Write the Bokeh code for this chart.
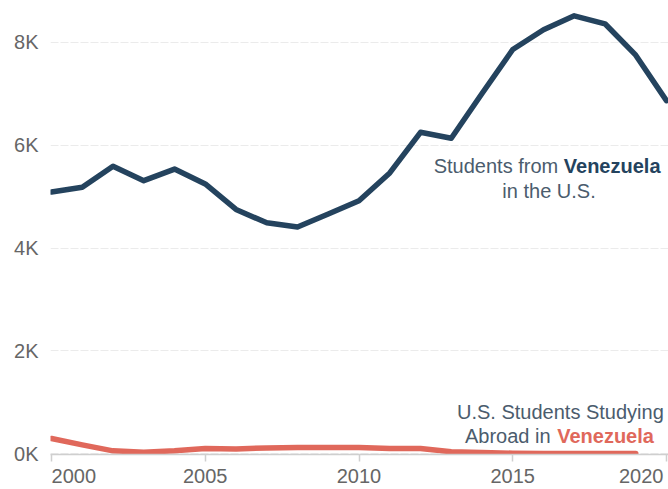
from bokeh.plotting import figure
from bokeh.models import Range1d, FixedTicker
from bokeh.core.properties import value
from bokeh.embed import file_html
from bokeh.resources import INLINE

# ---- data ----
years_from = list(range(2000, 2021))
students_from_venezuela = [5090, 5180, 5590, 5310, 5535, 5245, 4750, 4490, 4410, 4660,
                           4920, 5460, 6250, 6135, 7005, 7860, 8245, 8515, 8360, 7750, 6865]
years_abroad = list(range(2000, 2020))
us_students_in_venezuela = [295, 172, 56, 29, 56, 100, 94, 113, 120, 120,
                            120, 100, 100, 37, 23, 10, 5, 4, 6, 3]

y_ticks = [0, 2000, 4000, 6000, 8000]
y_tick_labels = ["0K", "2K", "4K", "6K", "8K"]
x_ticks = [2000, 2005, 2010, 2015, 2020]
FS = "\u2007"
x_tick_labels = [FS * 4 + "2000", "2005", "2010", "2015", "2020\u2005"]

NAVY = "#24435e"
RED = "#e0685b"
NOTE = "#4b5c6d"
GRAY = "#666666"
FONT = "Liberation Sans"

p = figure(width=668, height=489, output_backend="svg", toolbar_location=None,
           x_range=Range1d(1999.967, 2020.065), y_range=Range1d(-15, 8813),
           min_border_left=50, min_border_right=0, min_border_top=0, min_border_bottom=0)
p.outline_line_color = None
p.background_fill_color = "white"
p.border_fill_color = "white"

# grid
p.xgrid.grid_line_color = None
p.ygrid.ticker = FixedTicker(ticks=y_ticks)
p.ygrid.grid_line_color = "#ebebeb"
p.ygrid.grid_line_dash = "8 2"
p.ygrid.grid_line_width = 1

# y axis
p.yaxis.ticker = FixedTicker(ticks=y_ticks)
p.yaxis.major_label_overrides = dict(zip(y_ticks, y_tick_labels))
p.yaxis.axis_line_color = None
p.yaxis.major_tick_line_color = None
p.yaxis.minor_tick_line_color = None
p.yaxis.major_tick_out = 0
p.yaxis.major_tick_in = 0
p.yaxis.major_label_standoff = 12
p.yaxis.major_label_text_font = FONT
p.yaxis.major_label_text_font_size = "20px"
p.yaxis.major_label_text_color = GRAY

# x axis
p.xaxis.ticker = FixedTicker(ticks=x_ticks)
p.xaxis.major_label_overrides = dict(zip(x_ticks, x_tick_labels))
p.xaxis.axis_line_color = "#cfcfcf"
p.xaxis.axis_line_width = 1.5
p.xaxis.major_tick_line_color = "#cfcfcf"
p.xaxis.major_tick_line_width = 1.5
p.xaxis.minor_tick_line_color = None
p.xaxis.major_tick_out = 7
p.xaxis.major_tick_in = 0
p.xaxis.major_label_standoff = 3
p.xaxis.major_label_text_font = FONT
p.xaxis.major_label_text_font_size = "20px"
p.xaxis.major_label_text_color = GRAY

# lines
p.line(years_abroad, us_students_in_venezuela, line_color=RED, line_width=5.5,
       line_join="round", line_cap="round")
p.line(years_from, students_from_venezuela, line_color=NAVY, line_width=5.5,
       line_join="round", line_cap="round")

# annotations
common = dict(text_font=value(FONT), text_font_size="20px", text_baseline="middle")
p.text(x=[2016.478], y=[5586], text=["Students from"], text_align="right",
       text_color=NOTE, **common)
p.text(x=[2016.66], y=[5586], text=["Venezuela"], text_align="left",
       text_color=NAVY, text_font_style="bold", **common)
p.text(x=[2016.18], y=[5102], text=["in the U.S."], text_align="center",
       text_color=NOTE, **common)

p.text(x=[2016.55], y=[817], text=["U.S. Students Studying"], text_align="center",
       text_color=NOTE, **common)
p.text(x=[2016.23], y=[353], text=["Abroad in"], text_align="right",
       text_color=NOTE, **common)
p.text(x=[2016.445], y=[353], text=["Venezuela"], text_align="left",
       text_color=RED, text_font_style="bold", **common)

open("out.html", "w").write(file_html(p, INLINE))
